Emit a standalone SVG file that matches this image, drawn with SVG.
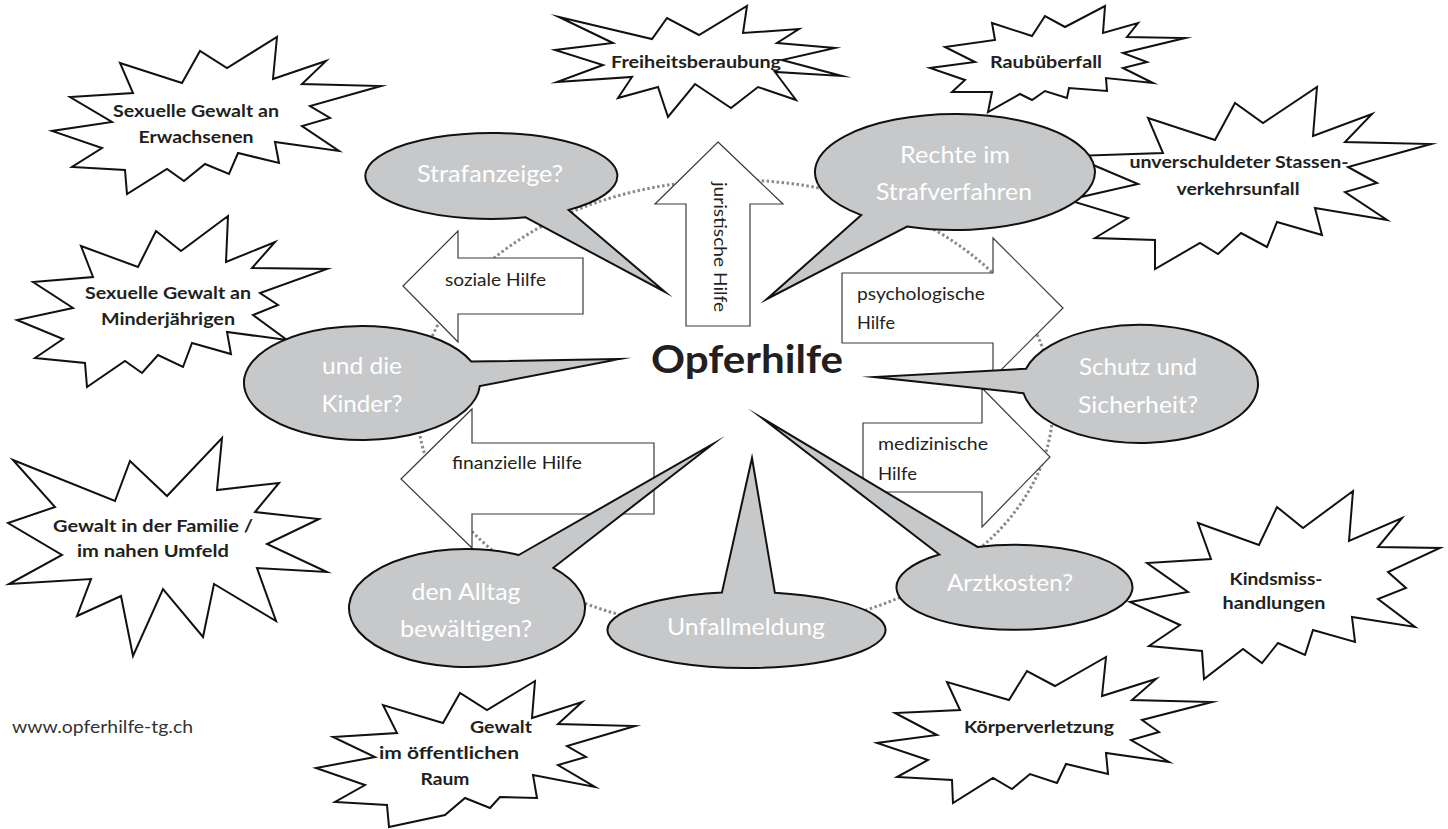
<svg xmlns="http://www.w3.org/2000/svg" width="1448" height="829" viewBox="0 0 1448 829">
<style>
.star{fill:#fff;stroke:#111;stroke-width:2;stroke-linejoin:miter;stroke-miterlimit:20}
.bub{fill:#c7c8ca;stroke:#111;stroke-width:2;stroke-linejoin:miter;stroke-miterlimit:20}
.arr{fill:#fff;stroke:#3a3a3a;stroke-width:1.2}
.ring{fill:none;stroke:#8a8a8a;stroke-width:3;stroke-dasharray:2.5 2.5}
text{font-family:Lato,"Open Sans","DejaVu Sans",sans-serif}
.st{font-weight:bold;font-size:17px;fill:#231f20;text-anchor:middle}
.bt{font-size:23px;fill:#fff;text-anchor:middle}
.at{font-size:17.5px;fill:#231f20}
.title{font-weight:bold;font-size:39px;fill:#231f20;text-anchor:middle}
.url{font-size:17px;fill:#333}
</style>
<rect width="1448" height="829" fill="#fff"/>

<g id="star-erwachsene">
<polygon class="star" points="120,63 182,83 200,51 227,68 277,37 273,79 326,61 302,84 381,86 310,106 330,118 302,126 339,151 275,142 279,163 238,153 229,174 205,164 184,181 167,169 127,194 125,170 72,167 102,148 52,131 112,122 70,97 133,93"/>
<text class="st" x="196" y="117" textLength="166" lengthAdjust="spacingAndGlyphs">Sexuelle Gewalt an</text>
<text class="st" x="196" y="143" textLength="115" lengthAdjust="spacingAndGlyphs">Erwachsenen</text>
</g>

<g id="star-minderjaehrige">
<polygon class="star" points="81,246 138,267 156,231 181,251 228,216 226,262 275,242 252,268 327,269 260,293 278,305 253,315 287,340 227,332 231,354 192,343 183,367 158,355 142,373 125,361 87,387 85,363 35,358 63,339 17,320 73,308 33,282 93,277"/>
<text class="st" x="168" y="299" textLength="166" lengthAdjust="spacingAndGlyphs">Sexuelle Gewalt an</text>
<text class="st" x="168" y="325" textLength="134" lengthAdjust="spacingAndGlyphs">Minderjährigen</text>
</g>

<g id="star-familie">
<polygon class="star" points="13,460 115,501 130,461 167,496 222,438 217,490 279,483 255,512 319,519 267,544 327,572 257,568 276,621 214,584 203,637 163,589 133,656 121,596 77,616 91,579 9,584 62,555 8,523 55,507"/>
<text class="st" x="153" y="532" textLength="200" lengthAdjust="spacingAndGlyphs">Gewalt in der Familie /</text>
<text class="st" x="153" y="557" textLength="152" lengthAdjust="spacingAndGlyphs">im nahen Umfeld</text>
</g>

<g id="star-freiheit">
<polygon class="star" points="559,17 652,39 667,18 699,35 747,6 743,33 799,29 777,43 835,48 782,60 842,76 775,72 796,100 758,87 731,108 695,84 668,117 658,87 618,98 632,77 557,82 603,65 555,50 613,43"/>
<text class="st" x="696" y="68" textLength="170" lengthAdjust="spacingAndGlyphs">Freiheitsberaubung</text>
</g>

<g id="star-raub">
<polygon class="star" points="992,23 1032,36 1045,16 1065,27 1105,6 1103,33 1138,23 1127,37 1185,38 1123,53 1147,62 1123,68 1153,83 1106,78 1107,91 1069,88 1067,98 1045,91 1032,100 1020,94 988,112 992,92 952,92 965,80 930,68 975,62 945,47 995,40"/>
<text class="st" x="1046" y="68" textLength="112" lengthAdjust="spacingAndGlyphs">Raubüberfall</text>
</g>

<g id="star-verkehr">
<polygon class="star" points="1148,118 1215,140 1235,103 1263,123 1317,87 1313,136 1372,114 1345,142 1431,144 1348,167 1377,183 1345,192 1387,220 1315,208 1322,235 1277,222 1267,247 1241,233 1218,254 1200,243 1155,269 1155,240 1095,238 1128,218 1068,200 1138,184 1072,156 1163,153"/>
<text class="st" x="1239" y="168" textLength="219" lengthAdjust="spacingAndGlyphs">unverschuldeter Stassen-</text>
<text class="st" x="1238" y="195" textLength="123" lengthAdjust="spacingAndGlyphs">verkehrsunfall</text>
</g>

<g id="star-kindsmiss">
<polygon class="star" points="1198,523 1259,545 1277,507 1303,528 1353,491 1349,541 1402,518 1378,547 1440,548 1388,572 1406,588 1378,599 1415,627 1352,617 1355,642 1313,630 1305,655 1278,643 1262,663 1243,649 1204,679 1202,651 1149,646 1180,625 1130,602 1188,592 1147,563 1211,559"/>
<text class="st" x="1276" y="585" textLength="93" lengthAdjust="spacingAndGlyphs">Kindsmiss-</text>
<text class="st" x="1274" y="609" textLength="103" lengthAdjust="spacingAndGlyphs">handlungen</text>
</g>

<g id="star-koerper">
<polygon class="star" points="947,682 960,710 895,713 937,735 877,743 928,760 897,777 952,780 953,803 993,778 1012,789 1030,774 1057,783 1066,764 1108,774 1106,753 1169,762 1131,740 1159,732 1142,720 1212,702 1132,700 1156,679 1102,696 1106,657 1055,686 1027,671 1009,700"/>
<text class="st" x="1039" y="733" textLength="150" lengthAdjust="spacingAndGlyphs">Körperverletzung</text>
</g>

<g id="star-oeffentlich">
<polygon class="star" points="383,705 397,733 333,737 375,757 316,768 365,785 335,802 387,805 389,827 445,815 465,798 490,808 500,797 537,798 533,775 595,787 558,765 586,757 567,746 635,726 558,724 582,702 532,718 535,681 487,710 460,693 443,723"/>
<text class="st" x="501" y="733" textLength="62" lengthAdjust="spacingAndGlyphs">Gewalt</text>
<text class="st" x="449" y="759" textLength="140" lengthAdjust="spacingAndGlyphs">im öffentlichen</text>
<text class="st" x="445" y="785" textLength="49" lengthAdjust="spacingAndGlyphs">Raum</text>
</g>

<g id="connectors">
<ellipse class="ring" cx="735" cy="405" rx="318" ry="225"/>
</g>

<g id="arrow-juristisch">
<polygon class="arr" points="718,142 783,204 750,204 750,326 686,326 686,204 655,204"/>
<text class="at" transform="translate(714,247) rotate(90)" text-anchor="middle" textLength="130" lengthAdjust="spacingAndGlyphs">juristische Hilfe</text>
</g>
<g id="arrow-sozial">
<polygon class="arr" points="403,286 458,231 458,258 583,258 583,314 458,314 458,342"/>
<text class="at" x="445" y="286" textLength="101" lengthAdjust="spacingAndGlyphs">soziale Hilfe</text>
</g>
<g id="arrow-finanziell">
<polygon class="arr" points="401,479 472,409 472,443 654,443 654,514 472,514 472,548"/>
<text class="at" x="452" y="469" textLength="130" lengthAdjust="spacingAndGlyphs">finanzielle Hilfe</text>
</g>
<g id="arrow-psychologisch">
<polygon class="arr" points="842,273 993,273 993,238 1063,308 993,378 993,343 842,343"/>
<text class="at" x="857" y="300" textLength="128" lengthAdjust="spacingAndGlyphs">psychologische</text>
<text class="at" x="857" y="329" textLength="38" lengthAdjust="spacingAndGlyphs">Hilfe</text>
</g>
<g id="arrow-medizinisch">
<polygon class="arr" points="863,423 982,423 982,388 1050,457 982,527 982,492 863,492"/>
<text class="at" x="878" y="450" textLength="110" lengthAdjust="spacingAndGlyphs">medizinische</text>
<text class="at" x="878" y="480" textLength="39" lengthAdjust="spacingAndGlyphs">Hilfe</text>
</g>

<g id="bubble-strafanzeige">
<path class="bub" d="M525.7,217.3 L665,292 L568.6,209.9 A126,43 0 1 0 525.7,217.3 Z"/>
<text class="bt" x="490" y="182" textLength="146" lengthAdjust="spacingAndGlyphs">Strafanzeige?</text>
</g>
<g id="bubble-rechte">
<path class="bub" d="M861.3,215.1 L767,299 L907.1,226.5 A140,58 0 1 0 861.3,215.1 Z"/>
<text class="bt" x="955" y="163" textLength="110" lengthAdjust="spacingAndGlyphs">Rechte im</text>
<text class="bt" x="954" y="200" textLength="156" lengthAdjust="spacingAndGlyphs">Strafverfahren</text>
</g>
<g id="bubble-kinder">
<path class="bub" d="M471.4,361.6 L620,359 L479.8,386 A118,57 0 1 1 471.4,361.6 Z"/>
<text class="bt" x="362" y="374" textLength="80" lengthAdjust="spacingAndGlyphs">und die</text>
<text class="bt" x="362" y="412" textLength="81" lengthAdjust="spacingAndGlyphs">Kinder?</text>
</g>
<g id="bubble-schutz">
<path class="bub" d="M1026,368.7 L874,377 L1023.5,393.2 A118,59 0 1 0 1026,368.7 Z"/>
<text class="bt" x="1138" y="375" textLength="118" lengthAdjust="spacingAndGlyphs">Schutz und</text>
<text class="bt" x="1138" y="413" textLength="120" lengthAdjust="spacingAndGlyphs">Sicherheit?</text>
</g>
<g id="bubble-alltag">
<path class="bub" d="M518.7,555 L713,444 L553.3,567.8 A118,59 0 1 1 518.7,555 Z"/>
<text class="bt" x="466" y="600" textLength="109" lengthAdjust="spacingAndGlyphs">den Alltag</text>
<text class="bt" x="466" y="637" textLength="132" lengthAdjust="spacingAndGlyphs">bewältigen?</text>
</g>
<g id="bubble-unfall">
<path class="bub" d="M721.9,592.6 L752,458 L774.9,592.8 A139,38 0 1 1 721.9,592.6 Z"/>
<text class="bt" x="746" y="635" textLength="158" lengthAdjust="spacingAndGlyphs">Unfallmeldung</text>
</g>
<g id="bubble-arzt">
<path class="bub" d="M939.3,554.5 L762,418 L977.5,546.9 A118,42.5 0 1 1 939.3,554.5 Z"/>
<text class="bt" x="1010" y="591" textLength="126" lengthAdjust="spacingAndGlyphs">Arztkosten?</text>
</g>

<g id="center">
<text class="title" x="747" y="373" textLength="192" lengthAdjust="spacingAndGlyphs">Opferhilfe</text>
</g>
<g id="url">
<text class="url" x="12" y="733" textLength="181" lengthAdjust="spacingAndGlyphs">www.opferhilfe-tg.ch</text>
</g>
</svg>
